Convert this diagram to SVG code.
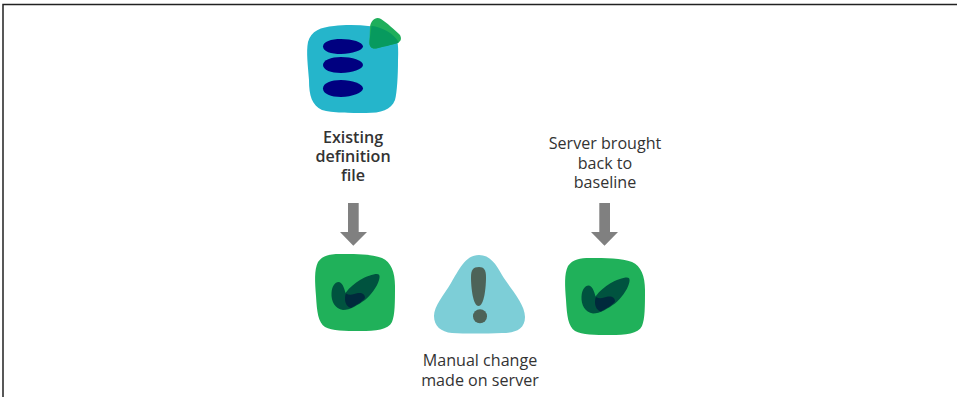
<svg xmlns="http://www.w3.org/2000/svg" width="957" height="397" viewBox="0 0 957 397">
<defs>
<style>
text{font-family:"Open Sans","Noto Sans",sans-serif;font-size:16.1px;fill:#333;text-anchor:middle}
.b{font-weight:600}
.arrow{fill:#808080}
.blob{fill:#20b15a}
.leaf{fill:#00533f}
.core{fill:#002a3c}
.bar{fill:#000080}
</style>
<g id="check">
<path class="leaf" d="M31.500 38C32 31 35 27 38.500 27C42 27 44 32 45.500 38C50 32 55 28 60 25C66 21.500 73 19 77 19C80 19 80 22 79 25C77 32 71 40 65 45C58 50 50 55 43 55C35 54 31 46 31.500 38Z"/>
<path class="core" d="M46 38.500C50 41 54 39 58 38C62 37.500 65 39 65 43C62 47 56 50 51 53C47 52 45 48 45 44C45 41 45.500 39 46 38.500Z"/>
</g>
</defs>
<rect width="957" height="397" fill="#fff"/>
<path d="M3 397V4.500H957" fill="none" stroke="#222" stroke-width="1.500"/>
<g id="definition-file">
<path d="M334 26C350 24 372 25 390 30C397 34 399 42 398 60C398 76 397 92 395 100C391 110 381 113 366 113C350 113 332 113 322 110C312 105 309 96 309 80C308 66 306 52 308 42C311 31 321 27 334 26Z" fill="#25b5cb"/>
<path class="bar" d="M323 46.500C323 41.500 331 39 341 39C352 39 363 42 363 46.500C363 50 352 54 341 54C331 54 323 51.500 323 46.500Z"/>
<path class="bar" d="M323 65C323 60 331 57 341 57C352 57 363 60.500 363 65C363 69 352 73 341 73C331 73 323 70 323 65Z"/>
<path class="bar" d="M323 88.500C323 83 331 80 341 80C352 80 363 84 363 88.500C363 92.500 352 97 341 97C331 97 323 94 323 88.500Z"/>
<path d="M370 27C371 20 376 16 381 19C386 22 396 31 400 35C402 39 401 42 396 43.500C390 45 382 47 376 48.500C371 49 369 46 369.500 41Z" fill="#1fae5b"/>
<path d="M371.500 26C382 27 393 33 399 42.500C392 45 382 47 376 48.500C371 49 369 46 369.500 41Z" fill="#079a5e"/>
<text class="b" x="353" y="143">Existing</text>
<text class="b" x="353" y="162">definition</text>
<text class="b" x="353" y="181">file</text>
</g>
<g id="check-before">
<path class="blob" d="M340 254C355 254 372 254 382 258C391 262 395 272 395 286C395 302 395 315 392 322C388 330 376 331 360 331C345 331 332 331 325 327C318 322 317 312 316 296C315 282 314 270 318 262C323 255 330 254 340 254Z"/>
<use href="#check" x="300" y="255"/>
</g>
<g id="check-after">
<path class="blob" d="M590 258C605 258 622 258 632 262C641 266 645 276 645 290C645 306 645 319 642 326C638 334 626 335 610 335C595 335 582 335 575 331C568 326 567 316 566 300C565 286 564 274 568 266C573 259 580 258 590 258Z"/>
<use href="#check" x="550" y="258.500"/>
</g>
<g id="manual-change">
<path d="M479 255C490 255 496 264 502 275C509 287 525 303 525 317C525 330 514 333 502 333C488 333.500 468 334 452 333C441 332 434 326 434 316C434 306 444 295 451 283C459 270 465 255 479 255Z" fill="#7dced7"/>
<path d="M479 267C484 267 486 270 486 277C486 288 484 306 478.500 306C473 306 471 288 471 277C471 270 473 267 479 267Z" fill="#4d6358"/>
<ellipse cx="480" cy="316.300" rx="7" ry="7" fill="#4d6358"/>
<text x="480" y="366">Manual change</text>
<text x="480" y="386">made on server</text>
</g>
<g id="server-baseline">
<text x="605" y="149">Server brought</text>
<text x="605" y="169">back to</text>
<text x="605" y="188">baseline</text>
</g>
<g id="connectors">
<path class="arrow" d="M348 203H358.700V232H367L353.300 245.700L340 232H348Z"/>
<path class="arrow" d="M599.300 203H610V232H618L604.500 245.700L591 232H599.300Z"/>
</g>
</svg>
